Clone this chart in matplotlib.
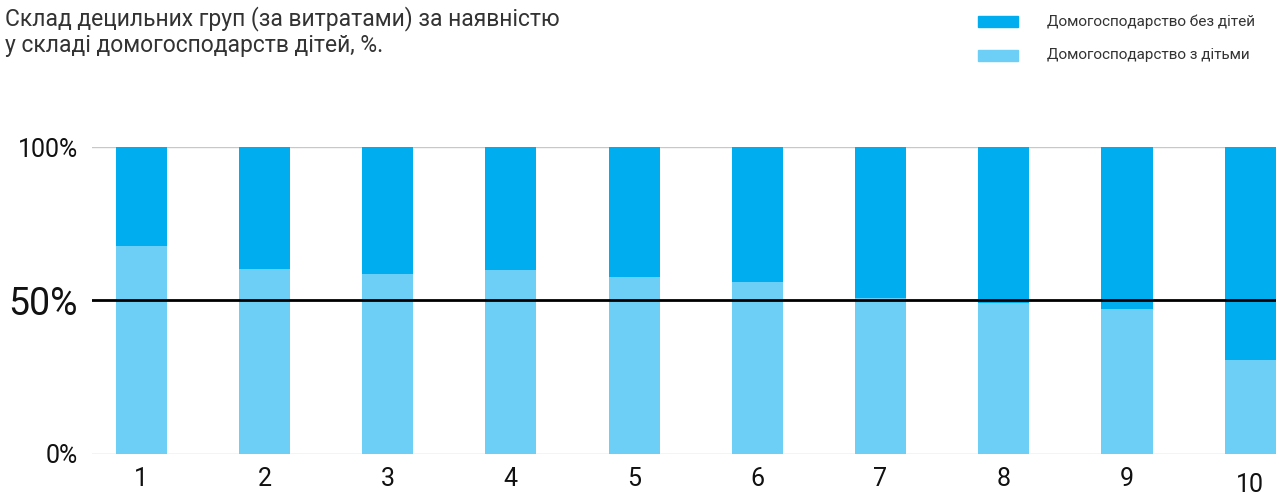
import matplotlib.pyplot as plt
import matplotlib.font_manager as fm
import numpy as np

# частка домогосподарств з дітьми у кожній децильній групі, %
deciles = ['1', '2', '3', '4', '5', '6', '7', '8', '9', '10']
with_children = [67.7, 60.2, 58.6, 59.9, 57.6, 56.0, 50.6, 49.0, 47.0, 30.4]
without_children = [100 - v for v in with_children]

dark = '#00AEEF'
light = '#6DCFF6'

names = {f.name for f in fm.fontManager.ttflist}
narrow = 'Liberation Sans Narrow' if 'Liberation Sans Narrow' in names else 'Roboto'
plt.rcParams['font.family'] = ['Roboto', 'DejaVu Sans']

fig = plt.figure(figsize=(12.79, 4.95), dpi=100)
ax = fig.add_axes([0.0719, 0.0838, 0.9258, 0.6192])

x = np.arange(1, len(deciles) + 1)
w = 0.415
ax.bar(x, with_children, w, color=light, label='Домогосподарство з дітьми', zorder=2)
ax.bar(x, without_children, w, bottom=with_children, color=dark,
       label='Домогосподарство без дітей', zorder=2)

ax.axhline(0, color='#c8c8c8', lw=1, zorder=1)
ax.axhline(100, color='#c8c8c8', lw=1, zorder=1)
ax.axhline(50, color='black', lw=2, zorder=3)

ax.set_xlim(0.6, 10.21)
ax.set_ylim(0, 100)
for s in ax.spines.values():
    s.set_visible(False)
ax.tick_params(length=0)

ax.set_yticks([0, 50, 100])
ax.set_yticklabels(['0%', '50%', '100%'], family=narrow, color='#111111')
for t, size in zip(ax.get_yticklabels(), [18, 27, 18]):
    t.set_fontsize(size)
ax.tick_params(axis='y', pad=10)

ax.set_xticks(x)
ax.set_xticklabels([])
for xi, lab in zip(x, deciles):
    dy = -0.103 if lab == '10' else -0.083
    ax.text(xi, dy, lab, transform=ax.get_xaxis_transform(), ha='center', va='center',
            fontsize=18, family=narrow, color='#111111')

fig.text(0.004, 0.963, 'Склад децильних груп (за витратами) за наявністю',
         fontsize=16.5, color='#333333', va='center')
fig.text(0.004, 0.908, 'у складі домогосподарств дітей, %.',
         fontsize=16.5, color='#333333', va='center')

# легенда вручну: прямокутники й підписи
for yy, col, lab in [(0.957, dark, 'Домогосподарство без дітей'),
                     (0.888, light, 'Домогосподарство з дітьми')]:
    fig.patches.append(plt.Rectangle((0.7647, yy - 0.011), 0.0313, 0.022,
                                     transform=fig.transFigure, color=col))
    fig.text(0.8186, yy, lab, fontsize=11, family=narrow, color='#333333', va='center')

fig.savefig('out.png', dpi=100)
